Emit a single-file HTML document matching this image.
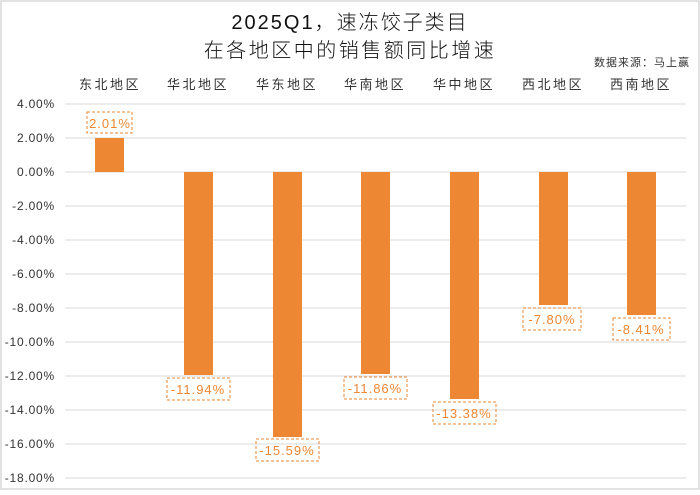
<!DOCTYPE html>
<html><head><meta charset="utf-8"><style>
body{margin:0;background:#fff}
svg text{font-family:"Liberation Sans","Noto Sans CJK SC",sans-serif}
</style></head><body>
<svg width="700" height="490" xmlns="http://www.w3.org/2000/svg">
<rect x="1" y="1" width="698" height="488" fill="#fff" stroke="#d9d9d9" stroke-width="1.5"/>
<text x="350" y="29" font-size="20" text-anchor="middle" letter-spacing="2" fill="#111" font-weight="300">2025Q1，速冻饺子类目</text>
<text x="350" y="57" font-size="20" text-anchor="middle" letter-spacing="2.5" fill="#111" font-weight="300">在各地区中的销售额同比增速</text>
<text x="690" y="66" font-size="11" text-anchor="end" fill="#333" letter-spacing="1">数据来源：马上赢</text>
<g font-size="13" fill="#333" text-anchor="middle" letter-spacing="2.5">
<text x="110" y="89">东北地区</text><text x="198" y="89">华北地区</text><text x="287" y="89">华东地区</text><text x="375" y="89">华南地区</text><text x="464" y="89">华中地区</text><text x="553" y="89">西北地区</text><text x="641" y="89">西南地区</text>
</g>
<g stroke="#d9d9d9" stroke-width="1">
<line x1="65" x2="686" y1="104" y2="104"/><line x1="65" x2="686" y1="138" y2="138"/><line x1="65" x2="686" y1="172" y2="172"/><line x1="65" x2="686" y1="206" y2="206"/><line x1="65" x2="686" y1="240" y2="240"/><line x1="65" x2="686" y1="274" y2="274"/><line x1="65" x2="686" y1="308" y2="308"/><line x1="65" x2="686" y1="342" y2="342"/><line x1="65" x2="686" y1="376" y2="376"/><line x1="65" x2="686" y1="410" y2="410"/><line x1="65" x2="686" y1="444" y2="444"/><line x1="65" x2="686" y1="478" y2="478"/>
</g>
<g font-size="12" fill="#333" text-anchor="end" letter-spacing="0.8">
<text x="55" y="108">4.00%</text><text x="55" y="142">2.00%</text><text x="55" y="176">0.00%</text><text x="55" y="210">-2.00%</text><text x="55" y="244">-4.00%</text><text x="55" y="278">-6.00%</text><text x="55" y="312">-8.00%</text><text x="55" y="346">-10.00%</text><text x="55" y="380">-12.00%</text><text x="55" y="414">-14.00%</text><text x="55" y="448">-16.00%</text><text x="55" y="482">-18.00%</text>
</g>
<g fill="#ed8733">
<rect x="95" y="138" width="29" height="34"/>
<rect x="184" y="172" width="29" height="203"/>
<rect x="273" y="172" width="29" height="265"/>
<rect x="361" y="172" width="29" height="202"/>
<rect x="450" y="172" width="29" height="227"/>
<rect x="539" y="172" width="29" height="133"/>
<rect x="627" y="172" width="29" height="143"/>
</g>
<g fill="none" stroke="#ed8733" stroke-dasharray="3,2" stroke-width="1">
<rect x="87" y="112" width="45" height="21"/>
<rect x="167" y="378" width="63" height="22"/>
<rect x="256" y="439" width="63" height="22"/>
<rect x="344" y="377" width="63" height="22"/>
<rect x="433" y="402" width="63" height="22"/>
<rect x="523" y="308" width="58" height="22"/>
<rect x="613" y="318" width="57" height="22"/>
</g>
<g font-size="13" fill="#ed8733" text-anchor="middle" letter-spacing="1">
<text x="110" y="128">2.01%</text>
<text x="198" y="394">-11.94%</text>
<text x="287" y="455">-15.59%</text>
<text x="375" y="393">-11.86%</text>
<text x="464" y="418">-13.38%</text>
<text x="552" y="324">-7.80%</text>
<text x="641" y="334">-8.41%</text>
</g>
</svg>
</body></html>
